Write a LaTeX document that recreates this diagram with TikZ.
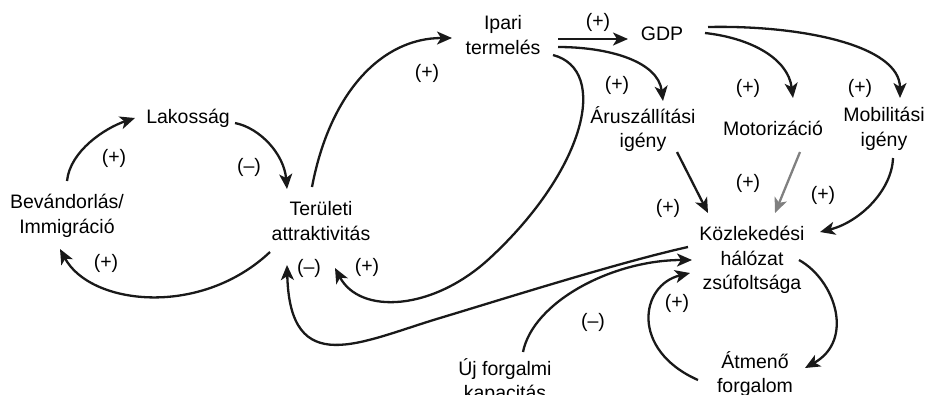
\documentclass[tikz,border=0pt]{standalone}
\usepackage{fontspec}
\setmainfont{Liberation Sans}
\usetikzlibrary{arrows.meta,calc}
\begin{document}
\begin{tikzpicture}[x=1pt,y=-1pt,
  factor/.style={font=\fontsize{19.5}{24.5}\selectfont, align=center, inner sep=0pt},
  sign/.style={font=\fontsize{19.5}{24.5}\selectfont, inner sep=0pt},
  link/.style={line width=2.3pt, draw=black!90, -{Stealth[length=15pt,width=13pt,inset=4pt]}},
  greylink/.style={link, draw=black!50, -{Stealth[length=15pt,width=13pt,inset=4pt,fill=black!50]}}]
\useasboundingbox (0,0) rectangle (934,394);
\clip (0,0) rectangle (934,394);

% factors
\node[factor] (lak) at (188,118) {Lakosság};
\node[factor] (bev) at (67,216) {Bevándorlás/\\Immigráció};
\node[factor] (ter) at (321,221) {Területi\\attraktivitás};
\node[factor] (ind) at (503,35) {Ipari\\termelés};
\node[factor] (gdp) at (662,34) {GDP};
\node[factor] (aru) at (643,129) {Áruszállítási\\igény};
\node[factor] (mot) at (773,128) {Motorizáció};
\node[factor] (mob) at (884,129) {Mobilitási\\igény};
\node[factor] (koz) at (752,260) {Közlekedési\\hálózat\\zsúfoltsága};
\node[factor] (atm) at (755,374) {Átmenő\\forgalom};
\node[factor] (uj) at (505,381) {Új forgalmi\\kapacitás};

% population loop
\draw[link] ($(bev)+(0,-35)$) .. controls +(3,-30) and +(-30,10) .. ($(lak)+(-53,0)$);
\draw[link] ($(lak)+(47,5)$) .. controls +(25,5) and +(-3,-35) .. ($(ter)+(-34,-32)$);
\draw[link] ($(ter)+(-51,31)$) .. controls +(-70,66) and +(30,56) .. ($(bev)+(-7,33)$);

% industry and economy
\draw[link] ($(ter)+(-9,-34)$) .. controls +(18,-95) and +(-70,0) .. ($(ind)+(-51,3)$);
\draw[link] ($(ind)+(55,4)$) -- ($(gdp)+(-34,5)$);
\draw[link] ($(ind)+(55,12)$) .. controls +(50,0) and +(-5,-40) .. ($(aru)+(20,-28)$);
\draw[link] ($(ind)+(50,20)$) .. controls (610,70) and (585,170) .. (490,258)
  .. controls (433,311) and (360,315) .. ($(ter)+(14,47)$);
\draw[link] ($(gdp)+(43,-1)$) .. controls +(45,5) and +(-5,-40) .. ($(mot)+(20,-30)$);
\draw[link] ($(gdp)+(46,-7)$) .. controls +(92,-2) and +(0,-53) .. ($(mob)+(16,-31)$);

% demand towards congestion
\draw[link] ($(aru)+(34,23)$) -- ($(koz)+(-44,-47)$);
\draw[greylink] ($(mot)+(27,24)$) -- ($(koz)+(23,-47)$);
\draw[link] ($(mob)+(9,29)$) .. controls +(-1,32) and +(40,-10) .. ($(koz)+(68,-28)$);

% congestion feedbacks
\draw[link] ($(koz)+(-64,-13)$) .. controls (620,262) and (500,300) .. (440,318)
  .. controls (360,342) and (290,380) .. ($(ter)+(-34,44)$);
\draw[link] ($(uj)+(18,-29)$) .. controls +(10,-50) and +(-80,0) .. ($(koz)+(-60,0)$);
\draw[link] ($(atm)+(-57,6)$) .. controls +(-68,-30) and +(-50,12) .. ($(koz)+(-62,13)$);
\draw[link] ($(koz)+(47,0)$) .. controls +(36,20) and +(50,-28) .. ($(atm)+(50,-6)$);

% polarities
\node[sign] (s1) at (114,158) {(+)};
\node[sign] (s2) at (249,167) {(–)};
\node[sign] (s3) at (106,263) {(+)};
\node[sign] (s4) at (427,73) {(+)};
\node[sign] (s5) at (598,22) {(+)};
\node[sign] (s6) at (617,85) {(+)};
\node[sign] (s7) at (748,88) {(+)};
\node[sign] (s8) at (860,88) {(+)};
\node[sign] (s9) at (668,208) {(+)};
\node[sign] (s10) at (748,183) {(+)};
\node[sign] (s11) at (823,195) {(+)};
\node[sign] (s12) at (309,268) {(–)};
\node[sign] (s13) at (367,267) {(+)};
\node[sign] (s14) at (593,322) {(–)};
\node[sign] (s15) at (677,303) {(+)};
\end{tikzpicture}
\end{document}
